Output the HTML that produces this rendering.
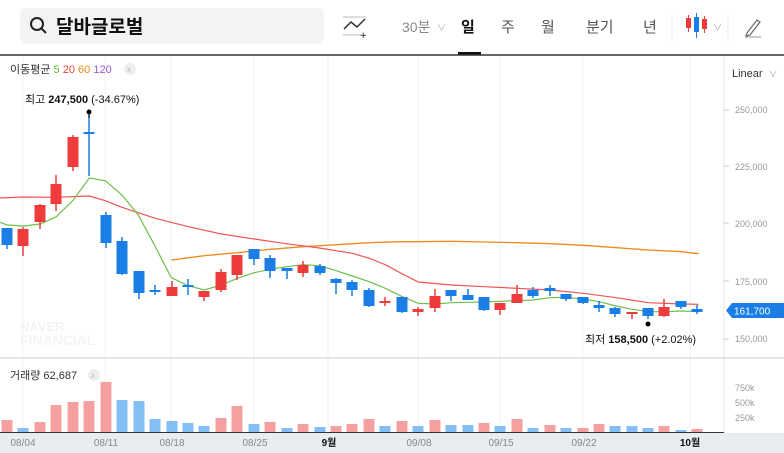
<!DOCTYPE html>
<html><head><meta charset="utf-8"><style>
html,body{margin:0;padding:0;background:#fff;width:784px;height:453px;overflow:hidden}
svg{display:block;font-family:"Liberation Sans","Noto Sans CJK KR",sans-serif}
</style></head><body>
<svg width="784" height="453" viewBox="0 0 784 453" xmlns="http://www.w3.org/2000/svg">
<!-- top bar -->
<rect x="20" y="8" width="304" height="36" rx="6" fill="#f2f3f5"/>
<circle cx="37" cy="24" r="6" fill="none" stroke="#222" stroke-width="2"/>
<line x1="41.5" y1="28.5" x2="46" y2="33" stroke="#222" stroke-width="2"/>
<text x="56" y="33" font-size="19" font-weight="bold" fill="#111">달바글로벌</text>
<line x1="343" y1="17" x2="366" y2="17" stroke="#bbb" stroke-width="1"/>
<line x1="343" y1="35" x2="366" y2="35" stroke="#bbb" stroke-width="1"/>
<polyline points="344,29 351,22 357,27 365,19" fill="none" stroke="#333" stroke-width="1.5"/>
<text x="360" y="39" font-size="11" fill="#333">+</text>
<text x="402" y="32" font-size="14" fill="#888">30분</text>
<text x="437" y="31" font-size="9" fill="#aaa">∨</text>
<text x="461" y="32" font-size="15" font-weight="bold" fill="#111">일</text>
<rect x="458" y="52" width="23" height="3" fill="#111"/>
<text x="501" y="32" font-size="15" fill="#555">주</text>
<text x="541" y="32" font-size="15" fill="#555">월</text>
<text x="586" y="32" font-size="15" fill="#555">분기</text>
<text x="643" y="32" font-size="15" fill="#555">년</text>
<line x1="672" y1="14" x2="672" y2="41" stroke="#eee"/>
<rect x="686" y="18" width="5" height="10" fill="#ef3b3b"/><line x1="688.5" y1="15" x2="688.5" y2="32" stroke="#ef3b3b"/>
<rect x="694" y="17" width="5" height="15" fill="#1a7ee6"/><line x1="696.5" y1="13" x2="696.5" y2="38" stroke="#1a7ee6"/>
<rect x="702" y="19" width="5" height="10" fill="#ef3b3b"/><line x1="704.5" y1="16" x2="704.5" y2="33" stroke="#ef3b3b"/>
<text x="713" y="31" font-size="9" fill="#aaa">∨</text>
<line x1="728" y1="14" x2="728" y2="41" stroke="#eee"/>
<path d="M747 33 L757 20 L760 22 L750 35 L746 36 Z" fill="none" stroke="#666" stroke-width="1.2"/>
<line x1="745" y1="37" x2="761" y2="37" stroke="#999"/>
<line x1="0" y1="55" x2="784" y2="55" stroke="#333" stroke-width="1.5"/>

<!-- grid -->
<g stroke="#f0f1f3" stroke-width="1">
<line x1="23" y1="56" x2="23" y2="433"/><line x1="105" y1="56" x2="105" y2="433"/><line x1="171" y1="56" x2="171" y2="433"/><line x1="254" y1="56" x2="254" y2="433"/><line x1="328" y1="56" x2="328" y2="433"/><line x1="418" y1="56" x2="418" y2="433"/><line x1="500" y1="56" x2="500" y2="433"/><line x1="583" y1="56" x2="583" y2="433"/><line x1="690" y1="56" x2="690" y2="433"/>
</g>
<line x1="724" y1="56" x2="724" y2="433" stroke="#e6e6e6"/>
<line x1="0" y1="358" x2="784" y2="358" stroke="#ccc"/>

<!-- legends -->
<text x="10" y="73" font-size="11" fill="#333">이동평균 <tspan fill="#5cb82f">5</tspan> <tspan fill="#ef3b3b">20</tspan> <tspan fill="#f08a1c">60</tspan> <tspan fill="#9b59d0">120</tspan></text>
<circle cx="130" cy="69" r="6" fill="#eee"/><text x="127" y="72" font-size="8" fill="#bbb">x</text>
<text x="732" y="77" font-size="11" fill="#333">Linear</text><text x="769" y="77" font-size="8" fill="#999">∨</text>
<g font-size="9" fill="#999">
<text x="735" y="113">250,000</text><text x="735" y="170">225,000</text><text x="735" y="227">200,000</text><text x="735" y="285">175,000</text><text x="735" y="342">150,000</text>
</g>
<g stroke="#ccc"><line x1="724" y1="110" x2="729" y2="110"/><line x1="724" y1="166" x2="729" y2="166"/><line x1="724" y1="223" x2="729" y2="223"/><line x1="724" y1="281" x2="729" y2="281"/><line x1="724" y1="339" x2="729" y2="339"/></g>
<path d="M726 310.5 L732 303 L784 303 L784 318 L732 318 Z" fill="#1a7ee6"/>
<text x="734" y="314.5" font-size="10" fill="#fff">161,700</text>

<!-- watermark -->
<text x="20" y="331" font-size="13" font-weight="bold" fill="#f3f4f6">NAVER</text>
<text x="20" y="345" font-size="14" font-weight="bold" fill="#f3f4f6">FINANCIAL</text>

<!-- MAs -->
<polyline fill="none" stroke="#f08a1c" stroke-width="1.3" points="171.3,260 204.3,255.7 237.3,252.7 270.3,249.3 303.3,246.7 336.3,244.7 369.3,242.7 400,241.7 418.3,241.7 451.3,241.3 484.3,242 517,242.7 550.3,243.7 583.3,245.3 616.3,247.7 648.3,250 681.7,251.7 698.7,253.7"/>
<polyline fill="none" stroke="#ef5555" stroke-width="1.2" points="0,198 23.3,197 56.3,197.3 89.3,196 105.3,200.7 122,207.3 155.3,218.3 188.3,226.7 221.3,234 254.3,239 286.3,243.7 319.3,248 352.3,253.3 369.3,258.3 385.3,264.7 400,272.7 418.3,282 451.3,285 484.3,286.7 517,288.3 550.3,290 583.3,293.3 616.3,297.7 648.3,302.7 681.7,304 698.7,304.3"/>
<polyline fill="none" stroke="#6cc14a" stroke-width="1.2" points="0,222.3 7.3,225 23.3,226 40.3,224 56.3,216.7 73.3,200 89.3,178 105.3,180.7 122,195 138.3,215 155.3,246.7 171.3,277.7 188.3,285.7 204.3,290 221.3,285 237.3,278.3 254.3,272.7 270.3,269.3 286.3,266.7 303.3,264.7 319.3,265.7 336.3,270.7 352.3,276 369.3,281.7 385.3,288.3 402.3,296.7 418.3,303.3 435.3,304 451.3,302.7 467.3,302.3 484.3,302 500.3,301.3 517,300.7 533.3,300 550.3,297.7 566.3,297.3 583.3,299 599.3,301.7 616.3,306 632.3,309.3 648.3,311.7 665.3,311.7 681.7,311 698.7,311.7"/>

<!-- candles -->
<g fill="#1a7ee6">
<rect x="1.5" y="228" width="11" height="17"/><rect x="6.25" y="228" width="1.5" height="21"/>
<rect x="83.5" y="132" width="11" height="2"/><rect x="88.25" y="115" width="1.5" height="61"/>
<rect x="100.5" y="215" width="11" height="28"/><rect x="105.25" y="212" width="1.5" height="36"/>
<rect x="116.5" y="241" width="11" height="33"/><rect x="121.25" y="237" width="1.5" height="38"/>
<rect x="133.5" y="271" width="11" height="22"/><rect x="138.25" y="271" width="1.5" height="28"/>
<rect x="149.5" y="290" width="11" height="2"/><rect x="154.25" y="285" width="1.5" height="10"/>
<rect x="182.5" y="285" width="11" height="2"/><rect x="187.25" y="279" width="1.5" height="16"/>
<rect x="248.5" y="249" width="11" height="10"/><rect x="253.25" y="249" width="1.5" height="16"/>
<rect x="264.5" y="258" width="11" height="13"/><rect x="269.25" y="255" width="1.5" height="23"/>
<rect x="281.5" y="268" width="11" height="3"/><rect x="286.25" y="268" width="1.5" height="11"/>
<rect x="314.5" y="266" width="11" height="7"/><rect x="319.25" y="264" width="1.5" height="11"/>
<rect x="330.5" y="279" width="11" height="4"/><rect x="335.25" y="278" width="1.5" height="16"/>
<rect x="346.5" y="282" width="11" height="8"/><rect x="351.25" y="280" width="1.5" height="16"/>
<rect x="363.5" y="290" width="11" height="16"/><rect x="368.25" y="288" width="1.5" height="19"/>
<rect x="396.5" y="297" width="11" height="15"/><rect x="401.25" y="297" width="1.5" height="16"/>
<rect x="445.5" y="290" width="11" height="6"/><rect x="450.25" y="290" width="1.5" height="11"/>
<rect x="462.5" y="295" width="11" height="5"/><rect x="467.25" y="289" width="1.5" height="11"/>
<rect x="478.5" y="297" width="11" height="13"/><rect x="483.25" y="297" width="1.5" height="14"/>
<rect x="527.5" y="290" width="11" height="6"/><rect x="532.25" y="287" width="1.5" height="11"/>
<rect x="544.5" y="288" width="11" height="3"/><rect x="549.25" y="285" width="1.5" height="11"/>
<rect x="560.5" y="294" width="11" height="5"/><rect x="565.25" y="294" width="1.5" height="7"/>
<rect x="577.5" y="297" width="11" height="6"/><rect x="582.25" y="297" width="1.5" height="7"/>
<rect x="593.5" y="305" width="11" height="3"/><rect x="598.25" y="301" width="1.5" height="11"/>
<rect x="609.5" y="308" width="11" height="6"/><rect x="614.25" y="307" width="1.5" height="10"/>
<rect x="642.5" y="308" width="11" height="8"/><rect x="647.25" y="308" width="1.5" height="11"/>
<rect x="675.5" y="301" width="11" height="6"/><rect x="680.25" y="301" width="1.5" height="8"/>
<rect x="691.5" y="309" width="11" height="3"/><rect x="696.25" y="305" width="1.5" height="9"/>
</g>
<g fill="#ef3b3b">
<rect x="17.5" y="229" width="11" height="17"/><rect x="22.25" y="227" width="1.5" height="29"/>
<rect x="34.5" y="205" width="11" height="17"/><rect x="39.25" y="204" width="1.5" height="25"/>
<rect x="50.5" y="184" width="11" height="20"/><rect x="55.25" y="175" width="1.5" height="36"/>
<rect x="67.5" y="137" width="11" height="30"/><rect x="72.25" y="135" width="1.5" height="36"/>
<rect x="166.5" y="287" width="11" height="9"/><rect x="171.25" y="281" width="1.5" height="15"/>
<rect x="198.5" y="291" width="11" height="6"/><rect x="203.25" y="291" width="1.5" height="10"/>
<rect x="215.5" y="272" width="11" height="18"/><rect x="220.25" y="269" width="1.5" height="23"/>
<rect x="231.5" y="255" width="11" height="20"/><rect x="236.25" y="255" width="1.5" height="25"/>
<rect x="297.5" y="265" width="11" height="8"/><rect x="302.25" y="261" width="1.5" height="16"/>
<rect x="379.5" y="301" width="11" height="2"/><rect x="384.25" y="297" width="1.5" height="9"/>
<rect x="412.5" y="309" width="11" height="3"/><rect x="417.25" y="307" width="1.5" height="9"/>
<rect x="429.5" y="296" width="11" height="12"/><rect x="434.25" y="289" width="1.5" height="23"/>
<rect x="494.5" y="303" width="11" height="7"/><rect x="499.25" y="303" width="1.5" height="12"/>
<rect x="511.5" y="294" width="11" height="9"/><rect x="516.25" y="285" width="1.5" height="18"/>
<rect x="626.5" y="312" width="11" height="2"/><rect x="631.25" y="312" width="1.5" height="7"/>
<rect x="658.5" y="307" width="11" height="9"/><rect x="663.25" y="299" width="1.5" height="18"/>
</g>

<!-- annotations -->
<line x1="89" y1="112" x2="89" y2="118" stroke="#000"/>
<circle cx="89" cy="112" r="2.5" fill="#000"/>
<text x="25" y="103" font-size="11" fill="#111">최고 <tspan font-weight="bold">247,500</tspan> (-34.67%)</text>
<circle cx="648" cy="324" r="2.5" fill="#000"/>
<text x="585" y="343" font-size="11" fill="#111">최저 <tspan font-weight="bold">158,500</tspan> (+2.02%)</text>

<!-- volume -->
<text x="10" y="379" font-size="11" fill="#333">거래량 62,687</text>
<circle cx="94" cy="375" r="6" fill="#eee"/><text x="91" y="378" font-size="8" fill="#bbb">x</text>
<g font-size="9" fill="#999"><text x="735" y="391">750k</text><text x="735" y="406">500k</text><text x="735" y="421">250k</text></g>
<g fill="#f4a0a0">
<rect x="1.5" y="420" width="11" height="12"/><rect x="34.5" y="422" width="11" height="10"/><rect x="50.5" y="405" width="11" height="27"/><rect x="67.5" y="402" width="11" height="30"/><rect x="83.5" y="401" width="11" height="31"/><rect x="100.5" y="382" width="11" height="50"/>
<rect x="215.5" y="418" width="11" height="14"/><rect x="231.5" y="406" width="11" height="26"/><rect x="264.5" y="422" width="11" height="10"/><rect x="297.5" y="424" width="11" height="8"/><rect x="330.5" y="426" width="11" height="6"/><rect x="346.5" y="424" width="11" height="8"/><rect x="363.5" y="419" width="11" height="13"/><rect x="396.5" y="421" width="11" height="11"/><rect x="429.5" y="420" width="11" height="12"/><rect x="478.5" y="423" width="11" height="9"/><rect x="511.5" y="419" width="11" height="13"/><rect x="544.5" y="425" width="11" height="7"/><rect x="577.5" y="428" width="11" height="4"/><rect x="593.5" y="424" width="11" height="8"/><rect x="658.5" y="426" width="11" height="6"/><rect x="691.5" y="429" width="11" height="3"/>
</g>
<g fill="#85bdf5">
<rect x="17.5" y="428" width="11" height="4"/><rect x="116.5" y="400" width="11" height="32"/><rect x="133.5" y="401" width="11" height="31"/><rect x="149.5" y="419" width="11" height="13"/><rect x="166.5" y="421" width="11" height="11"/><rect x="182.5" y="423" width="11" height="9"/><rect x="198.5" y="426" width="11" height="6"/><rect x="248.5" y="424" width="11" height="8"/><rect x="281.5" y="428" width="11" height="4"/><rect x="314.5" y="427" width="11" height="5"/><rect x="379.5" y="426" width="11" height="6"/><rect x="412.5" y="426" width="11" height="6"/><rect x="445.5" y="425" width="11" height="7"/><rect x="462.5" y="425" width="11" height="7"/><rect x="494.5" y="426" width="11" height="6"/><rect x="527.5" y="428" width="11" height="4"/><rect x="560.5" y="428" width="11" height="4"/><rect x="609.5" y="426" width="11" height="6"/><rect x="626.5" y="426" width="11" height="6"/><rect x="642.5" y="428" width="11" height="4"/><rect x="675.5" y="430" width="11" height="2"/>
</g>
<line x1="0" y1="432.5" x2="724" y2="432.5" stroke="#333"/>
<rect x="0" y="433" width="784" height="20" fill="#e9ecf1"/>
<g font-size="10" fill="#888" text-anchor="middle">
<text x="23" y="446">08/04</text><text x="106" y="446">08/11</text><text x="172" y="446">08/18</text><text x="255" y="446">08/25</text><text x="329" y="446" fill="#111" font-weight="bold">9월</text><text x="419" y="446">09/08</text><text x="501" y="446">09/15</text><text x="584" y="446">09/22</text><text x="690" y="446" fill="#111" font-weight="bold">10월</text>
</g>
</svg>
</body></html>
